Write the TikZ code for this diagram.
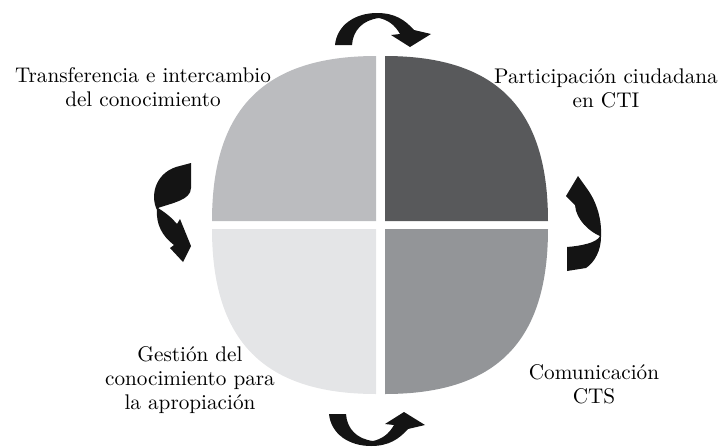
\documentclass[tikz,border=0pt]{standalone}
\definecolor{grisA}{RGB}{187,188,191}
\definecolor{grisB}{RGB}{88,89,91}
\definecolor{grisC}{RGB}{228,229,231}
\definecolor{grisD}{RGB}{147,149,152}
\begin{document}
\begin{tikzpicture}[
	x=0.5pt, y=-0.5pt,
	etiqueta/.style={align=center, inner sep=0pt,
		font=\fontsize{10.6}{12}\selectfont},
	giro/.style={fill=black!92},
	]
	\useasboundingbox (0,0) rectangle (719,446);

	% cuadrantes
	\fill [grisA] (376,221) -- (376,56) .. controls (264,56) and (212,109) .. (212,221) -- cycle;
	\fill [grisB] (385,221) -- (385,56) .. controls (497,56) and (548,109) .. (548,221) -- cycle;
	\fill [grisC] (376,229) -- (376,394) .. controls (264,394) and (212,341) .. (212,229) -- cycle;
	\fill [grisD] (385,229) -- (385,394) .. controls (497,394) and (548,341) .. (548,229) -- cycle;

	% flechas
	\fill [giro] (335,45) .. controls (337,25) and (355,13) .. (377,13)
		.. controls (395,13) and (405,20) .. (414,30)
		-- (431,34) -- (410,47) -- (391,35) -- (400,34)
		.. controls (395,25) and (388,20) .. (379,18)
		.. controls (363,20) and (353,30) .. (352,45) -- cycle;
	\begin{scope}[shift={(-6,459)}, yscale=-1]
		\fill [giro] (335,45) .. controls (337,25) and (355,13) .. (377,13)
			.. controls (395,13) and (405,20) .. (414,30)
			-- (431,34) -- (410,47) -- (391,35) -- (400,34)
			.. controls (395,25) and (388,20) .. (379,18)
			.. controls (363,20) and (353,30) .. (352,45) -- cycle;
	\end{scope}
	\fill [giro] (176,167) -- (191,163) -- (191,188)
		.. controls (191,200) and (172,203) .. (158,208)
		.. controls (166,213) and (172,218) .. (177,224)
		-- (180,219) -- (191,246) -- (183,262) -- (170,248) -- (174,245)
		.. controls (162,236) and (156,224) .. (157,210)
		.. controls (150,196) and (155,174) .. (176,167) -- cycle;
	\fill [giro] (567,271) -- (567,247)
		.. controls (580,246) and (597,243) .. (600,236)
		.. controls (590,232) and (576,220) .. (575,205)
		-- (566,196) -- (578,176) -- (588,190)
		.. controls (597,203) and (602,220) .. (601,237)
		.. controls (601,250) and (595,262) .. (586,268) -- cycle;

	% textos
	\node [etiqueta] (tic) at (143,87) {Transferencia e intercambio\\del conocimiento};
	\node [etiqueta] (pc) at (606,88) {Participación ciudadana\\en CTI};
	\node [etiqueta] (gc) at (190,380) {Gestión del\\conocimiento para\\la apropiación};
	\node [etiqueta] (cts) at (594,384) {Comunicación\\CTS};
\end{tikzpicture}
\end{document}
